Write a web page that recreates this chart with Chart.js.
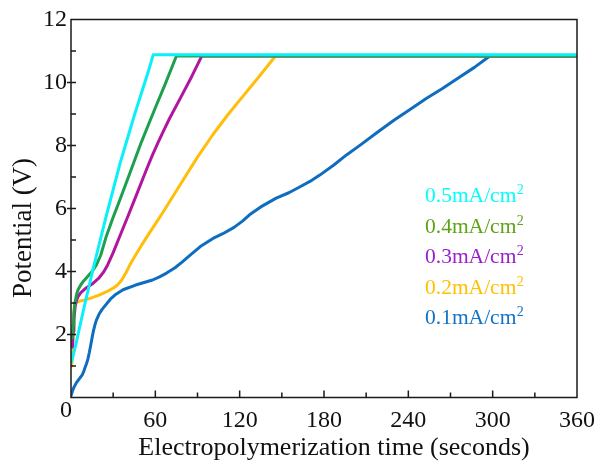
<!DOCTYPE html>
<html>
<head>
<meta charset="utf-8">
<title>Potential vs electropolymerization time</title>
<script src="https://cdn.jsdelivr.net/npm/chart.js"></script>
<style>
  html, body { margin: 0; padding: 0; background: #fff; }
  #wrap { width: 606px; height: 462px; }
</style>
</head>
<body>
<div id="wrap"><canvas id="potentialChart" width="606" height="462"></canvas></div>
<script>
'use strict';

// legend / series order, top to bottom
var seriesLabels = ["0.5mA/cm", "0.4mA/cm", "0.3mA/cm", "0.2mA/cm", "0.1mA/cm"];
var lineColors = ["#0AF0FA", "#1DA04E", "#B1169F", "#FFBE0A", "#0F6DC0"];
var labelColors = ["#00FFFF", "#5DA316", "#9A1FCC", "#FFC000", "#1272C4"];

// time (s) and potential (V)
var time05 = [0.5, 3, 6, 10, 15, 20, 25, 30, 35, 40, 45, 50, 55, 58.5, 360];
var volt05 = [1.15, 1.6, 2.2, 3.0, 3.95, 4.85, 5.75, 6.6, 7.45, 8.2, 8.95, 9.65, 10.35, 10.88, 10.88];

var time04 = [1, 1.5, 2, 3, 4, 5, 7, 9, 12, 15, 18, 21, 25, 30, 35, 40, 45, 50, 55, 60, 67, 75, 360];
var volt04 = [1.9, 2.3, 2.65, 3.05, 3.28, 3.42, 3.58, 3.7, 3.85, 4.0, 4.2, 4.5, 5.1, 5.72, 6.3, 6.9, 7.5, 8.1, 8.65, 9.2, 9.95, 10.84, 10.84];

var time03 = [1, 1.5, 2, 3, 4, 5, 7, 10, 15, 20, 23, 26, 30, 35, 40, 46, 54, 58, 62, 66, 70, 78, 86, 93, 360];
var volt03 = [1.6, 2.1, 2.45, 2.9, 3.1, 3.2, 3.33, 3.45, 3.6, 3.8, 3.97, 4.2, 4.6, 5.15, 5.7, 6.37, 7.27, 7.7, 8.1, 8.48, 8.85, 9.52, 10.2, 10.84, 10.84];

var time02 = [0.5, 1, 1.5, 2, 2.5, 3, 5, 10, 15, 20, 25, 30, 33, 36, 39, 42, 45, 50, 55, 65, 78, 90, 101, 112, 123, 134, 145.5, 360];
var volt02 = [1.0, 1.3, 2.0, 2.7, 2.95, 3.0, 3.05, 3.1, 3.17, 3.25, 3.35, 3.47, 3.57, 3.72, 3.95, 4.22, 4.45, 4.82, 5.17, 5.85, 6.78, 7.63, 8.35, 9.0, 9.6, 10.2, 10.84, 10.84];

var time01 = [0, 1, 2, 4, 6, 8, 9, 10, 11, 12, 13, 14, 15, 16, 17, 18, 20, 22, 24, 28, 32, 37, 46, 52, 58, 63, 68, 74, 79, 85, 92, 101, 108, 116, 122, 127, 135, 146, 155, 163, 170, 177, 187, 196, 206, 218, 230, 242, 253, 264, 275, 287, 298, 360];
var volt01 = [0.05, 0.2, 0.32, 0.48, 0.6, 0.72, 0.82, 0.95, 1.07, 1.22, 1.42, 1.65, 1.9, 2.12, 2.3, 2.45, 2.65, 2.79, 2.9, 3.12, 3.28, 3.42, 3.57, 3.65, 3.73, 3.83, 3.95, 4.12, 4.3, 4.53, 4.79, 5.05, 5.2, 5.4, 5.6, 5.8, 6.05, 6.33, 6.5, 6.69, 6.86, 7.06, 7.38, 7.7, 8.02, 8.42, 8.81, 9.17, 9.5, 9.8, 10.13, 10.48, 10.84, 10.84];

var xTickLabels = [60, 120, 180, 240, 300, 360];
var yTickLabels = [2, 4, 6, 8, 10, 12];

var serif = '"Liberation Serif", "Times New Roman", serif';

var potentialjs = function () {
    return {

        init: function () {
            potentialjs.handleLineChart();
        },

        toPoints: function (xs, ys) {
            return xs.map(function (x, i) { return { x: x, y: ys[i] }; });
        },

        // frame, inward ticks, axis titles and the coloured legend text
        decorations: {
            id: 'decorations',
            afterDraw: function (chart) {
                var ctx = chart.ctx;
                var area = chart.chartArea;
                var xs = chart.scales.x;
                var ys = chart.scales.y;
                ctx.save();
                ctx.strokeStyle = '#1a1a1a';
                ctx.lineWidth = 1.5;
                ctx.strokeRect(area.left, area.top, area.right - area.left, area.bottom - area.top);

                ctx.beginPath();
                xs.ticks.forEach(function (t) {
                    if (t.value <= xs.min || t.value >= xs.max) return;
                    var px = xs.getPixelForValue(t.value);
                    var len = xTickLabels.indexOf(t.value) >= 0 ? 7 : 5;
                    ctx.moveTo(px, area.bottom);
                    ctx.lineTo(px, area.bottom - len);
                });
                ys.ticks.forEach(function (t) {
                    if (t.value <= ys.min || t.value >= ys.max) return;
                    var py = ys.getPixelForValue(t.value);
                    if (yTickLabels.indexOf(t.value) >= 0) {
                        ctx.moveTo(area.left - 4, py);
                        ctx.lineTo(area.left + 5, py);
                    } else {
                        ctx.moveTo(area.left, py);
                        ctx.lineTo(area.left + 5, py);
                    }
                });
                ctx.stroke();

                ctx.fillStyle = '#111';
                ctx.font = '24px ' + serif;
                ctx.textAlign = 'center';
                ctx.textBaseline = 'middle';
                ctx.fillText('0', 66, 411);

                ctx.font = '26px ' + serif;
                ctx.textBaseline = 'alphabetic';
                ctx.fillText('Electropolymerization time (seconds)', 334, 455);

                ctx.save();
                ctx.translate(31, 228);
                ctx.rotate(-Math.PI / 2);
                ctx.font = '27px ' + serif;
                ctx.fillText('Potential (V)', 0, 0);
                ctx.restore();

                var baseY = [202, 232.5, 263, 293.5, 324];
                ctx.textAlign = 'left';
                seriesLabels.forEach(function (label, i) {
                    ctx.fillStyle = labelColors[i];
                    ctx.font = '21.5px ' + serif;
                    ctx.fillText(label, 425, baseY[i]);
                    var w = ctx.measureText(label).width;
                    ctx.font = '14px ' + serif;
                    ctx.fillText('2', 425 + w + 0.5, baseY[i] - 8);
                });
                ctx.restore();
            }
        },

        handleLineChart: function () {
            var sets = [
                [time05, volt05], [time04, volt04], [time03, volt03], [time02, volt02], [time01, volt01]
            ];
            var datasets = sets.map(function (s, i) {
                return {
                    label: seriesLabels[i] + '2',
                    data: potentialjs.toPoints(s[0], s[1]),
                    borderColor: lineColors[i],
                    backgroundColor: lineColors[i],
                    borderWidth: 3,
                    borderJoinStyle: 'round',
                    borderCapStyle: 'round',
                    pointRadius: 0,
                    fill: false,
                    tension: 0
                };
            });

            new Chart(document.getElementById('potentialChart'), {
                type: 'line',
                data: { datasets: datasets },
                options: {
                    responsive: false,
                    animation: false,
                    events: [],
                    layout: { padding: { left: 0, right: 29, top: 19.5, bottom: 0 } },
                    plugins: {
                        legend: { display: false },
                        tooltip: { enabled: false },
                        title: { display: false }
                    },
                    scales: {
                        x: {
                            type: 'linear',
                            min: 0,
                            max: 360,
                            grid: { display: false, drawTicks: false },
                            border: { display: false },
                            afterFit: function (scale) { scale.height = 64.5; },
                            ticks: {
                                stepSize: 30,
                                autoSkip: false,
                                maxRotation: 0,
                                padding: 9,
                                color: '#111',
                                font: { family: serif, size: 24 },
                                callback: function (v) { return xTickLabels.indexOf(v) >= 0 ? String(v) : ''; }
                            }
                        },
                        y: {
                            min: 0,
                            max: 12,
                            grid: { display: false, drawTicks: false },
                            border: { display: false },
                            afterFit: function (scale) { scale.width = 71; },
                            ticks: {
                                stepSize: 1,
                                autoSkip: false,
                                padding: 4,
                                color: '#111',
                                font: { family: serif, size: 24 },
                                callback: function (v) { return yTickLabels.indexOf(v) >= 0 ? String(v) : ''; }
                            }
                        }
                    }
                },
                plugins: [potentialjs.decorations]
            });
        }

    };
}();

potentialjs.init();
</script>
</body>
</html>
